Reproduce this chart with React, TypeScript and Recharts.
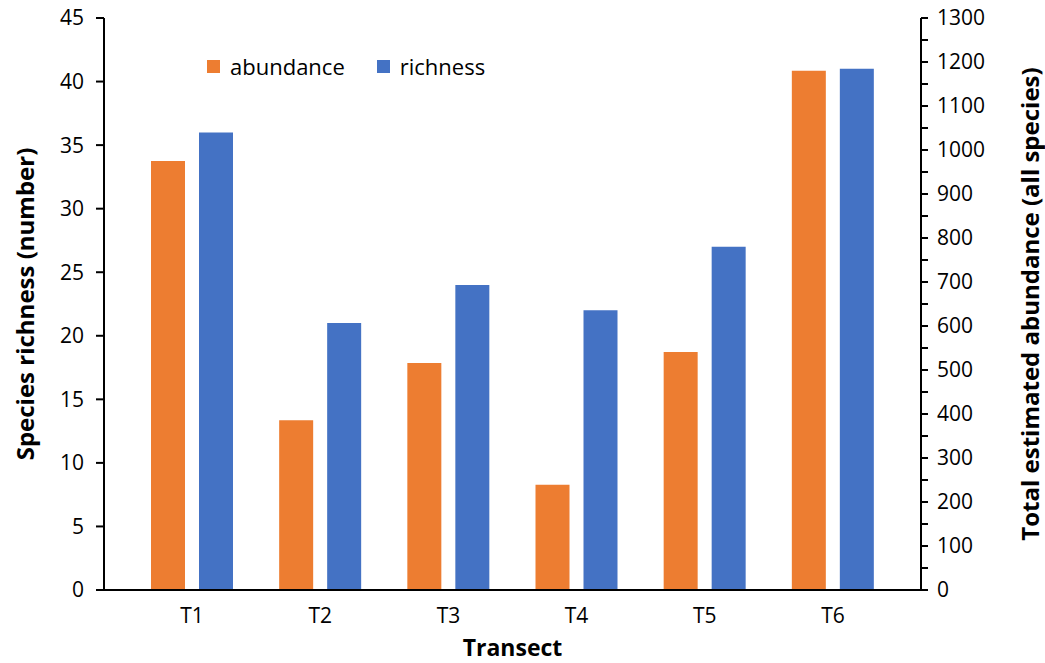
import { BarChart, Bar, XAxis, YAxis, Label } from "recharts";

const transects = ["T1", "T2", "T3", "T4", "T5", "T6"];
const abundance = [975, 386, 516, 239, 541, 1180];
const richness = [36, 21, 24, 22, 27, 41];

const richnessTicks = [0, 5, 10, 15, 20, 25, 30, 35, 40, 45];
const abundanceTicks = [
  0, 50, 100, 150, 200, 250, 300, 350, 400, 450, 500, 550, 600, 650,
  700, 750, 800, 850, 900, 950, 1000, 1050, 1100, 1150, 1200, 1250, 1300,
];

const ORANGE = "#ED7D31";
const BLUE = "#4472C4";
const FONT = "'Open Sans', 'Noto Sans', sans-serif";

const data = transects.map((t, i) => ({
  name: t,
  abundance: abundance[i],
  richness: richness[i],
}));

function LegendBox() {
  const items = [
    { label: "abundance", color: ORANGE },
    { label: "richness", color: BLUE },
  ];
  return (
    <div style={{ display: "flex", alignItems: "center", fontFamily: FONT, fontSize: 22, color: "#000" }}>
      {items.map((it) => (
        <div key={it.label} style={{ display: "flex", alignItems: "center", marginRight: 32 }}>
          <span style={{ width: 13, height: 13, background: it.color, display: "inline-block", marginRight: 10 }} />
          <span>{it.label}</span>
        </div>
      ))}
    </div>
  );
}

export default function App() {
  return (
    <div style={{ position: "absolute", left: 0, top: 0, width: 1045, height: 663, background: "#fff" }}>
      <BarChart
        width={1045}
        height={663}
        data={data}
        margin={{ top: 18, right: 24, bottom: 23, left: 24 }}
        barSize={34}
        barGap={14}
      >
        <XAxis
          dataKey="name"
          xAxisId={0}
          padding={{ left: 24, right: 24 }}
          tickLine={false}
          axisLine={{ stroke: "#000", strokeWidth: 2 }}
          tick={{ fill: "#000", fontSize: 21, fontFamily: FONT }}
          tickMargin={12}
          height={50}
        >
          <Label
            content={({ viewBox }: any) => (
              <text
                x={viewBox.x + viewBox.width / 2}
                y={656}
                textAnchor="middle"
                fontFamily={FONT}
                fontWeight="bold"
                fontSize={23}
                fill="#000"
              >
                Transect
              </text>
            )}
          />
        </XAxis>
        <YAxis
          yAxisId="left"
          orientation="left"
          domain={[0, 45]}
          ticks={richnessTicks}
          interval={0}
          width={80}
          axisLine={{ stroke: "#000", strokeWidth: 2 }}
          tickLine={{ stroke: "#000", strokeWidth: 2 }}
          tickSize={8}
          tickMargin={12}
          tick={{ fill: "#000", fontSize: 21, fontFamily: FONT }}
        >
          <Label
            content={({ viewBox }: any) => {
              const cx = 24;
              const cy = viewBox.y + viewBox.height / 2;
              return (
                <text
                  x={cx}
                  y={cy}
                  transform={`rotate(-90 ${cx} ${cy})`}
                  textAnchor="middle"
                  dominantBaseline="central"
                  fontFamily={FONT}
                  fontWeight="bold"
                  fontSize={24}
                  fill="#000"
                >
                  Species richness (number)
                </text>
              );
            }}
          />
        </YAxis>
        <YAxis
          yAxisId="right"
          orientation="right"
          domain={[0, 1300]}
          ticks={abundanceTicks}
          interval={0}
          width={100}
          axisLine={{ stroke: "#000", strokeWidth: 2 }}
          tickLine={{ stroke: "#000", strokeWidth: 2 }}
          tickSize={7}
          tickMargin={9}
          tickFormatter={(v: number) => (v % 100 === 0 ? String(v) : "")}
          tick={{ fill: "#000", fontSize: 21, fontFamily: FONT }}
        >
          <Label
            content={({ viewBox }: any) => {
              const cx = 1029;
              const cy = viewBox.y + viewBox.height / 2;
              return (
                <text
                  x={cx}
                  y={cy}
                  transform={`rotate(-90 ${cx} ${cy})`}
                  textAnchor="middle"
                  dominantBaseline="central"
                  fontFamily={FONT}
                  fontWeight="bold"
                  fontSize={24}
                  fill="#000"
                >
                  Total estimated abundance (all species)
                </text>
              );
            }}
          />
        </YAxis>
        <Bar dataKey="abundance" yAxisId="right" fill={ORANGE} isAnimationActive={false} />
        <Bar dataKey="richness" yAxisId="left" fill={BLUE} isAnimationActive={false} />
      </BarChart>
      <div style={{ position: "absolute", left: 207, top: 51 }}>
        <LegendBox />
      </div>
    </div>
  );
}
